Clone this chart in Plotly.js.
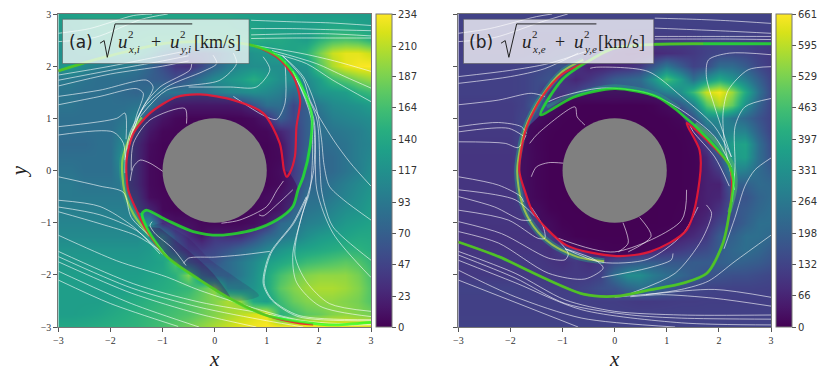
<!DOCTYPE html>
<html>
<head>
<meta charset="utf-8">
<script src="https://cdn.plot.ly/plotly-3.0.1.min.js"></script>
<style>body{margin:0;background:#fff}#myPlot{width:830px;height:380px}</style>
</head>
<body>
<div id="myPlot"></div>
<script>
// grid positions of the two speed maps
const gridX = [-3,-2.75,-2.5,-2.25,-2,-1.75,-1.5,-1.25,-1,-0.75,-0.5,-0.25,0,0.25,0.5,0.75,1,1.25,1.5,1.75,2,2.25,2.5,2.75,3];
const gridY = [3,2.75,2.5,2.25,2,1.75,1.5,1.25,1,0.75,0.5,0.25,0,-0.25,-0.5,-0.75,-1,-1.25,-1.5,-1.75,-2,-2.25,-2.5,-2.75,-3];

// ion speed, rows from y=3 down to y=-3
const ionSpeed = [
[130,132,134,135,135,135,135,135,135,135,135,135,135,135,132,130,130,130,130,128,128,128,128,128,128],
[125,130,135,140,140,140,140,140,140,140,140,140,140,140,135,135,130,130,130,130,135,140,140,135,130],
[120,125,130,135,140,140,145,150,150,150,150,150,150,150,150,145,140,140,135,130,150,165,170,165,150],
[115,120,125,130,135,140,140,120,90,70,60,60,70,90,110,120,125,135,135,150,185,215,225,225,215],
[120,125,110,100,95,95,90,75,55,35,30,50,75,95,110,115,115,115,115,120,170,205,225,232,234],
[95,95,90,85,85,85,80,70,65,55,70,90,110,120,130,145,130,115,115,110,130,160,175,190,200],
[90,90,85,85,85,80,75,85,90,90,90,85,95,105,110,115,110,100,80,100,120,125,130,150,160],
[90,90,85,85,85,85,90,95,60,35,30,30,30,30,35,60,85,85,50,70,95,110,115,120,130],
[85,85,85,85,85,90,105,55,25,10,5,5,5,5,6,12,30,70,50,70,85,100,105,110,115],
[85,85,85,85,85,100,85,30,8,5,5,5,5,5,5,6,8,25,40,70,85,90,95,100,110],
[80,80,80,85,85,110,60,15,5,5,5,5,5,5,5,5,5,12,40,70,80,85,90,100,105],
[85,85,85,85,85,120,60,12,5,5,5,5,5,5,5,5,5,10,40,75,75,80,90,100,110],
[90,90,85,85,85,110,60,12,5,5,5,5,5,5,5,5,6,15,40,65,75,80,90,100,115],
[95,95,90,90,90,95,60,12,5,5,5,5,5,5,5,5,6,12,40,75,80,90,100,110,120],
[95,95,95,95,95,95,80,15,8,5,5,5,5,5,5,8,15,25,50,85,85,95,105,115,125],
[100,100,100,100,100,100,100,55,10,6,5,5,5,5,6,10,15,30,75,90,95,105,115,120,130],
[105,105,105,105,105,105,105,120,35,20,20,10,8,8,10,15,30,80,90,100,105,115,125,130,135],
[110,110,110,110,110,110,110,125,130,60,30,15,35,30,30,50,75,90,100,115,125,130,135,140,140],
[120,120,120,120,120,120,120,125,150,80,45,40,50,60,75,90,105,120,130,135,140,145,150,150,145],
[125,125,125,125,125,125,125,130,135,170,90,60,60,80,95,110,130,140,150,160,165,170,175,170,155],
[130,130,130,130,130,130,130,135,140,150,190,110,85,80,95,115,140,165,180,190,195,195,195,185,165],
[130,130,130,130,130,130,135,140,145,150,155,175,195,115,110,120,140,175,190,200,205,205,200,190,170],
[130,130,130,130,135,140,145,150,155,160,170,180,190,205,195,140,130,160,180,190,195,195,190,185,170],
[130,130,132,135,140,145,150,155,160,165,170,180,190,200,210,220,225,150,160,175,180,190,195,190,185],
[140,140,142,145,148,150,152,158,165,175,185,195,205,215,225,230,234,234,234,234,234,232,230,228,225]
];

// electron speed, rows from y=3 down to y=-3
const electronSpeed = [
[130,130,130,130,130,130,130,130,130,130,130,130,130,130,130,130,130,130,130,130,130,130,130,130,130],
[125,125,125,125,125,125,125,125,125,125,125,125,125,125,125,125,125,125,125,125,125,125,125,125,125],
[118,118,118,120,120,120,120,120,120,120,120,115,115,110,110,110,110,110,115,125,130,130,125,120,115],
[120,120,120,120,120,120,125,130,140,150,130,100,80,70,70,75,85,95,110,130,140,140,135,120,110],
[125,125,125,125,125,130,135,150,170,100,60,60,70,80,110,180,260,190,130,150,230,230,190,140,110],
[125,125,125,125,125,130,150,170,100,70,100,140,190,210,230,340,470,370,240,330,400,340,280,200,130],
[125,125,125,125,125,130,150,90,100,130,170,190,200,190,200,230,290,330,450,610,650,560,400,250,140],
[115,115,115,115,115,130,200,170,60,20,10,10,10,10,10,30,100,180,280,480,580,500,330,210,130],
[115,115,115,115,115,140,130,60,20,10,8,8,8,8,8,10,20,60,170,310,320,260,220,170,130],
[110,110,110,110,110,140,60,20,10,8,8,8,8,8,8,8,10,20,50,220,280,300,290,200,130],
[105,105,105,105,105,140,50,15,8,8,8,8,8,8,8,8,8,15,40,110,280,370,380,240,150],
[100,100,100,100,100,140,60,15,8,8,8,8,8,8,8,8,8,15,30,70,170,360,370,240,160],
[100,100,100,100,100,140,50,15,8,8,8,8,8,8,8,8,8,15,30,60,110,300,280,230,190],
[100,100,100,100,100,140,50,15,8,8,8,8,8,8,8,8,8,15,30,60,60,200,200,230,220],
[100,100,100,100,100,130,60,15,8,8,8,8,8,8,8,8,10,15,40,60,70,170,170,210,230],
[100,100,100,100,100,110,130,30,10,8,8,8,8,8,8,8,10,20,40,60,100,170,190,220,240],
[100,100,100,100,100,100,120,100,20,10,8,8,8,8,8,8,10,30,50,80,140,160,200,240,240],
[95,95,95,95,95,95,95,120,60,15,8,8,8,8,10,20,40,60,80,110,190,200,240,240,220],
[100,100,100,100,100,100,100,90,130,150,70,30,20,25,40,60,90,110,130,150,190,220,240,220,190],
[110,110,110,110,110,110,110,100,90,110,90,110,150,170,190,190,180,180,190,190,200,210,200,190,170],
[110,110,110,110,110,110,110,110,110,110,110,130,240,320,320,270,240,220,190,170,170,160,160,150,140],
[130,130,130,130,130,125,120,120,120,125,140,160,170,210,240,230,190,150,140,135,130,130,130,128,125],
[125,125,125,125,125,125,125,125,125,125,122,120,120,115,110,112,115,118,118,120,120,120,120,120,120],
[125,125,125,125,125,125,125,125,125,125,125,125,125,125,125,125,125,125,125,125,125,125,125,125,125],
[130,130,130,130,130,130,130,130,130,130,130,130,130,130,130,130,130,130,130,130,130,130,130,130,130]
];

// colourbar ticks
const ionTicks = [0,23,47,70,93,117,140,164,187,210,234];
const electronTicks = [0,66,132,198,264,331,397,463,529,595,661];

// separatrix curves, ion panel
const ionRedX = [-3,-2.2,-1.56,-0.92,-0.28,0.68,1.19,1.51,1.64,1.57,1.54,1.44,1.38,1.33,1.25,0.93,0.36,-0.28,-0.73,-1.24,-1.56,-1.69,-1.66,-1.5,-1.31,-0.92,-0.28,0.36,1,1.64,1.89];
const ionRedY = [1.91,2.15,2.31,2.44,2.47,2.41,2.18,1.8,1.35,0.84,0.27,-0.05,-0.12,0.01,0.52,1.1,1.35,1.46,1.41,1.1,0.71,0.2,-0.37,-0.76,-1.14,-1.65,-2.1,-2.49,-2.78,-2.93,-2.95];
const ionGreenX = [-3,-2.2,-1.56,-0.92,-0.28,0.68,1.19,1.57,1.86,1.83,1.7,1.6,1.5,1.19,0.74,0.1,-0.41,-0.92,-1.31,-1.39,-1.31,-0.92,-0.28,0.36,1,1.89,2.27,3];
const ionGreenY = [1.91,2.15,2.31,2.44,2.47,2.41,2.21,1.8,1.1,0.46,-0.12,-0.37,-0.69,-0.95,-1.14,-1.24,-1.17,-0.95,-0.76,-0.82,-1.08,-1.65,-2.1,-2.49,-2.78,-2.93,-2.96,-2.91];

// dark regions and bright shock layers, ion panel
const ionCoreX = [1.33,1.25,0.93,0.36,-0.28,-0.73,-1.24,-1.56,-1.69,-1.66,-1.5,-1.39,-1.31,-0.92,-0.41,0.1,0.74,1.19,1.5,1.6,1.44];
const ionCoreY = [0.01,0.52,1.1,1.35,1.46,1.41,1.1,0.71,0.2,-0.37,-0.76,-0.82,-0.76,-0.95,-1.17,-1.24,-1.14,-0.95,-0.69,-0.37,-0.05];
const ionWedgeX = [-1.31,-0.92,-0.28,0.36,0.85,0.4,-0.1,-0.5,-1];
const ionWedgeY = [-1.08,-1.65,-2.1,-2.49,-2.4,-2.05,-1.7,-1.3,-1];
const ionWedgeInnerX = [-1.31,-0.92,-0.28,0.3,-0.05,-0.55,-1.05];
const ionWedgeInnerY = [-1.08,-1.65,-2.1,-2.44,-1.95,-1.5,-1.1];
const ionGlowX = [-1.4,-1.58,-1.77,-1.73,-1.55,-1.25];
const ionGlowY = [1.02,0.75,0.2,-0.4,-0.85,-1.25];

// separatrix curves, electron panel
const electronRedX = [1.7,0.8,0,-0.5,-1,-1.4,-1.7,-1.83,-1.72,-1.56,-0.93,0.04,0.7,1.38,1.63,1.63,1.38,1.8,2.2,2.25,2.21,2.08,1.77,1.31,0.67,0.04,-0.6,-1.57,-2.2,-3];
const electronRedY = [2.43,2.42,2.35,2.1,1.85,1.4,0.8,0,-0.4,-0.81,-1.43,-1.64,-1.55,-1.14,-0.18,0.39,0.91,0.55,0.1,-0.2,-0.76,-1.39,-1.97,-2.16,-2.29,-2.41,-2.37,-1.96,-1.66,-1.37];
const electronGreenX = [3,1.7,0.8,0,-0.5,-1,-1.42,-0.8,0,0.8,1.2,1.8,2.2,2.28,2.21,2.08,1.77,1.31,0.67,0.04,-0.6,-1.57,-2.2,-3];
const electronGreenY = [2.43,2.43,2.42,2.35,2.1,1.75,1.07,1.4,1.57,1.42,1.15,0.6,0.1,-0.2,-0.76,-1.39,-1.97,-2.16,-2.29,-2.41,-2.37,-1.96,-1.66,-1.37];

// dark regions and bright shock layers, electron panel
const electronCoreX = [-1.42,-0.8,0,0.8,1.2,1.38,1.63,1.63,1.38,0.7,0.04,-0.93,-1.56,-1.72,-1.83,-1.7];
const electronCoreY = [1.07,1.4,1.57,1.42,1.15,0.91,0.39,-0.18,-1.14,-1.55,-1.64,-1.43,-0.81,-0.4,0,0.8];
const electronGlowX = [-0.6,-1,-1.4,-1.72,-1.87,-1.78,-1.55,-1.2,-0.7,-0.2];
const electronGlowY = [2.12,1.9,1.42,0.8,0,-0.62,-1.08,-1.42,-1.66,-1.74];
const electronArcX = [-1.3,-0.8,0,0.8,1.25];
const electronArcY = [1.22,1.46,1.62,1.47,1.2];
const electronRimX = [1.55,1.9,2.27,2.32,2.2];
const electronRimY = [0.9,0.6,0.1,-0.3,-0.8];

// streamlines as [x values, y values]
const ionStreams = [
[[-3,-2.4,-1.56,-1.2],[2.63,2.72,2.97,3]],
[[-3,-2.3,-1.4,-0.9],[2.47,2.55,2.9,3]],
[[0.7,1.5,2.2,3],[2.88,2.85,2.83,2.78]],
[[0.7,1.5,2.2,3],[2.72,2.72,2.7,2.68]],
[[0.7,1.5,2.2,3],[2.6,2.62,2.62,2.58]],
[[0.7,1.5,2.2,3],[2.53,2.54,2.54,2.54]],
[[0.74,1.64,2.3,3],[2.4,2.25,2.1,1.9]],
[[1.1,1.95,2.5,3],[2.3,2.05,1.8,1.58]],
[[1.12,1.76,2.27,3],[2.25,2.05,1.73,1.32]],
[[1.3,1.7,1.95,2.05,2.1,2.2,2.47,3],[2.2,1.8,1.2,0.6,0.1,-0.3,-0.56,-0.95]],
[[1.3,1.7,1.83,2.27,2.6,3],[2.2,1.75,1.35,0.6,0.15,-0.3]],
[[1.5,1.95,2.02,2.05,2.12,2.27,3],[1.9,1.03,0.07,-0.37,-0.69,-1.08,-1.72]],
[[1.5,1.9,1.96,2.27,3],[1.9,1,-0.37,-1.2,-2.05]],
[[1.5,1.85,1.83,1.67,1.54,1.76,2.2,3],[1.9,1,-0.37,-0.87,-1.62,-2.13,-2.55,-2.7]],
[[1.5,1.88,1.9,1.75,1.5,1.57,2.02,3],[1.9,1,0,-0.6,-1.6,-2.14,-2.6,-2.8]],
[[1.76,1.5,1.06,0.93,1.09,1.6,3],[-0.5,-1.01,-1.59,-2.16,-2.48,-2.8,-2.88]],
[[1.78,1.52,1.08,0.95,1.11,1.62,3],[-0.5,-1.01,-1.59,-2.16,-2.48,-2.78,-2.86]],
[[-0.6,-0.5,0,0.5,1.06],[-1.78,-1.68,-1.66,-1.62,-1.55]],
[[-1.2,-1.24,-1.15,-0.8,-0.55],[-0.98,-1.05,-1.2,-1.5,-1.82]],
[[-3,-2.2,-1.56,-1.05],[-0.57,-0.69,-1.08,-1.6]],
[[-3,-2.2,-1.5,-1],[-0.7,-0.85,-1.15,-1.6]],
[[-3,-2.2,-1.5,-0.95],[-0.79,-1.02,-1.25,-1.6]],
[[-3,-1.88,-0.92,-0.28,1.64,3],[-1.24,-1.73,-2.04,-2.3,-2.87,-2.95]],
[[-3,-1.56,-0.3,1,2,3],[-1.55,-2.17,-2.52,-2.75,-2.95,-2.96]],
[[-3,-1.6,-0.3,1,1.7],[-1.65,-2.25,-2.62,-2.88,-3]],
[[-3,-1.6,-0.3,0.8],[-1.75,-2.35,-2.75,-3]],
[[-3,-1.6,-0.3],[-1.93,-2.55,-3]],
[[-3,-2,-0.7],[-2.1,-2.55,-2.99]],
[[-3,-2.2,-1.75,-1.6,-1.2,-0.9],[-0.12,-0.3,-0.42,-0.9,-1.3,-1.65]],
[[-3,-2,-1,-0.5],[1.83,2,2.2,2.3]],
[[-3,-2,-1,-0.5],[1.73,1.92,2.1,2.2]],
[[-3,-2,-1,-0.5],[1.62,1.85,2,2.1]],
[[-3,-2.2,-1.3,-1.18,-1.37,-1.63,-1.72],[1.42,1.54,1.73,1.6,1.22,0.71,0.2]],
[[-3,-2.2,-1.5,-1.37,-1.5,-1.68],[1.26,1.42,1.57,1.48,1.05,0.4]],
[[-3,-1.88,-1.72,-1.7],[0.84,1,1.1,0.6]],
[[-3,-1.95,-1.75,-1.72],[0.68,0.74,0.52,-0.05]],
[[-0.44,-0.47,-1.05,-1.37,-1.63],[2.05,1.93,1.6,1.22,0.58]],
[[-0.03,0.04,-0.22,-0.92,-1.4,-1.63],[2.21,2.05,1.9,1.6,1.15,0.5]],
[[0.36,0.42,0.1,-0.92,-1.43],[2.25,2.05,1.73,1.54,1.03]],
[[0.93,1.06,0.8,0.3,-0.5],[2.18,1.93,1.6,1.6,1.6]],
[[1.35,1.35,1.19,0.93,0.36],[2.1,1.29,0.98,1.06,1.42]],
[[-0.54,-0.57,-1.24,-1.56,-1.6],[0.9,1.19,0.97,0.52,0]],
[[-1.62,-1.56,-1.43,-1.24,-0.99],[-0.2,0.07,0.2,0.14,-0.02]],
[[1.32,1.2,1,0.48,0.13],[-0.2,-0.37,-0.69,-0.95,-1.01]],
[[1.5,1.2,0.93,0.85],[-0.37,-0.65,-0.87,-0.85]]
];

const electronStreams = [
[[-3,-2.4,-1.5,-1.2],[2.63,2.72,2.95,3]],
[[-3,-2.3,-1.4,-0.9],[2.47,2.55,2.85,3]],
[[0.77,1.5,2.2,3],[2.92,2.9,2.87,2.82]],
[[0.77,1.5,2.2,3],[2.73,2.7,2.67,2.63]],
[[0.77,1.5,2.2,3],[2.57,2.57,2.57,2.57]],
[[0.77,1.5,2.2,3],[2.52,2.52,2.52,2.51]],
[[-3,-2,-1.27,-0.5],[1.8,1.92,2.05,2.3]],
[[-3,-2,-1.35,-0.7],[1.67,1.8,1.95,2.25]],
[[-3,-2.23,-1.6,-1.34],[1.26,1.35,1.48,1.42]],
[[-3,-2.23,-1.79,-1.69],[0.84,0.92,0.84,0.71]],
[[-3,-2.04,-1.75],[0.74,0.81,0.66]],
[[-3,-2.1,-1.85,-1.7],[0.55,0.52,0.44,0.68]],
[[-3,-2.23,-1.8,-1.75],[-0.12,-0.28,-0.5,-0.6]],
[[-1.63,-1.47,-0.76,-0.72,-0.57],[0.52,0.71,1.22,1.03,0.87]],
[[-1.6,-1.5,-1.27,-0.98],[-0.12,0.07,0.15,0.14]],
[[-1.27,-1.02,-0.25,0.64,1.28,1.92,2.24],[1.32,1.42,1.58,1.48,1.16,0.65,0.07]],
[[-0.47,-0.35,0.64,1.28,1.92,2.24],[1.96,1.98,1.9,1.42,0.84,0.26]],
[[3,2.2,1.8,1.76,1.92,2.24],[2.22,2.25,2.12,1.8,1.22,0.26]],
[[3,2.56,2.18,2.08,2.11,2.3],[1.99,1.93,1.54,1.1,0.52,-0.37]],
[[3,2.5,2.31,2.31,2.25],[1.38,1.22,0.84,0.07,-0.6]],
[[3,2.69,2.5,2.31,2.1],[0.24,0.01,-0.3,-0.9,-1.5]],
[[1.45,1.51,1.92,2.2],[0.85,0.74,0.26,-0.3]],
[[-3,-1.91,-1.53],[-0.37,-0.56,-0.88]],
[[-3,-2.3,-1.79,-1.6],[-0.5,-0.7,-0.95,-0.95]],
[[-3,-2.04,-1.47,-1.34,-1.37,-1.6],[-0.76,-0.95,-1.3,-1.3,-1.08,-0.7]],
[[-3,-2.17,-1.27,-0.95,-0.89,-1.15],[-0.98,-1.21,-1.68,-1.71,-1.59,-1.27]],
[[-3,-2.23,-1.27,-0.57,-0.22,-0.38,-0.95],[-1.17,-1.39,-1.97,-2.08,-1.87,-1.71,-1.5]],
[[-3,-1.91,-0.95,0,1.28,3],[-1.55,-1.97,-2.48,-2.7,-2.77,-2.77]],
[[-3,-1.91,-0.95,0.32,1.28,3],[-1.62,-2.06,-2.55,-2.77,-2.83,-2.85]],
[[-3,-1.91,-0.63,1.28,3],[-1.72,-2.15,-2.67,-2.92,-2.96]],
[[-3,-1.91,-0.63,1.16],[-1.91,-2.42,-2.83,-3]],
[[-3,-0.7],[-2.1,-3]],
[[0,0.77,1.92,3],[-2.43,-2.36,-2.28,-2.43]],
[[0.3,0.9,1.92,3],[-2.42,-2.38,-2.45,-2.6]],
[[0.16,0.26,0.07],[-1,-1.39,-1.56]],
[[0.48,0.7,0.26],[-0.9,-1.26,-1.56]],
[[1.12,1.09,0.64,-0.25],[-1.59,-1.71,-1.87,-2.05]],
[[1.76,1.86,1.67,1.16,0.32],[-0.66,-0.82,-1.33,-1.97,-2.35]],
[[3,2.31,1.8,1.28,0.6],[-1.24,-1.74,-2.12,-2.28,-2.38]],
[[-1.08,0,1.28,1.38],[-1.3,-1.56,-0.96,-0.37]],
[[-0.95,-0.25,0.64,1.28,1.6],[-1.5,-1.76,-1.7,-1.25,-0.7]]
];

const shockRed = "rgba(240,25,50,0.88)";
const shockGreen = "rgba(30,255,30,0.72)";
const streamWhite = "rgba(255,255,255,0.6)";

const curve = (x, y, color, width, xa, ya) => ({
    x: x, y: y, xaxis: xa, yaxis: ya, type: "scatter", mode: "lines",
    line: { color: color, width: width, shape: "spline", smoothing: 0.8 },
    hoverinfo: "skip", showlegend: false
});

const patch = (x, y, color, xa, ya) => ({
    x: x, y: y, xaxis: xa, yaxis: ya, type: "scatter", mode: "lines", fill: "toself", fillcolor: color,
    line: { width: 0, shape: "spline", smoothing: 0.8 }, hoverinfo: "skip", showlegend: false
});

const speedMap = (z, ticks, barX, xa, ya) => ({
    x: gridX, y: gridY.slice().reverse(), z: z.slice().reverse(),
    xaxis: xa, yaxis: ya, type: "heatmap", colorscale: "Viridis", zsmooth: "best",
    zmin: 0, zmax: ticks[ticks.length - 1],
    colorbar: {
        x: barX, xref: "paper", xanchor: "left", xpad: 0, ypad: 0,
        y: 1 - 327 / 380, yref: "paper", yanchor: "bottom", len: 313 / 380, lenmode: "fraction",
        thickness: 15.5, thicknessmode: "pixels",
        tickvals: ticks, ticktext: ticks.map(String), ticks: "outside", ticklen: 4,
        tickcolor: "#555", tickwidth: 1, outlinecolor: "#777", outlinewidth: 1,
        tickfont: { family: "DejaVu Sans", size: 10, color: "#333" }
    }
});

const data = [
    speedMap(ionSpeed, ionTicks, 375.7 / 830, "x", "y"),
    patch(ionCoreX, ionCoreY, "rgba(68,1,84,0.5)", "x", "y"),
    patch(ionWedgeX, ionWedgeY, "rgba(68,1,84,0.15)", "x", "y"),
    patch(ionWedgeInnerX, ionWedgeInnerY, "rgba(68,1,84,0.3)", "x", "y"),
    curve(ionGlowX, ionGlowY, "rgba(60,180,120,0.3)", 6, "x", "y"),
    curve(ionGlowX, ionGlowY, "rgba(170,225,60,0.7)", 2.2, "x", "y"),
    ...ionStreams.map(s => curve(s[0], s[1], streamWhite, 1, "x", "y")),
    curve(ionRedX, ionRedY, shockRed, 2.2, "x", "y"),
    curve(ionGreenX, ionGreenY, shockGreen, 2.8, "x", "y"),
    speedMap(electronSpeed, electronTicks, 776 / 830, "x2", "y2"),
    patch(electronCoreX, electronCoreY, "rgba(68,1,84,0.8)", "x2", "y2"),
    curve(electronGlowX, electronGlowY, "rgba(40,170,130,0.45)", 6, "x2", "y2"),
    curve(electronGlowX, electronGlowY, "rgba(190,225,60,0.7)", 2, "x2", "y2"),
    curve(electronArcX, electronArcY, "rgba(40,160,130,0.45)", 3.5, "x2", "y2"),
    curve(electronRimX, electronRimY, "rgba(90,200,100,0.5)", 4, "x2", "y2"),
    ...electronStreams.map(s => curve(s[0], s[1], streamWhite, 1, "x2", "y2")),
    curve(electronRedX, electronRedY, shockRed, 2.2, "x2", "y2"),
    curve(electronGreenX, electronGreenY, shockGreen, 2.8, "x2", "y2")
];

const axisStyle = {
    range: [-3, 3], tickvals: [-3, -2, -1, 0, 1, 2, 3], ticks: "outside", ticklen: 4, tickwidth: 1,
    tickcolor: "#555", linecolor: "#777", linewidth: 1, mirror: true, showgrid: false, zeroline: false,
    tickfont: { family: "Liberation Serif", size: 10, color: "#333" }
};
const serifTitle = { family: "Liberation Serif", size: 21, color: "#222" };

// legend box, radical sign and disk for one panel
const panelShapes = (xa, ya, boxLeft, boxRight, radical) => [
    { type: "circle", xref: xa, yref: ya, x0: -1, x1: 1, y0: -1, y1: 1, fillcolor: "#808080", line: { width: 0 } },
    { type: "rect", xref: xa, yref: ya, x0: boxLeft, x1: boxRight, y0: 2.05, y1: 2.9,
      fillcolor: "rgba(255,255,255,0.75)", line: { color: "rgba(90,90,90,0.6)", width: 1 } },
    { type: "path", xref: xa, yref: ya, path: radical, line: { color: "#222", width: 1 } }
];

const note = (xa, ya, x, y, text, size, family) => ({
    xref: xa, yref: ya, x: x, y: y, text: text, showarrow: false, xanchor: "left", yanchor: "middle",
    font: { family: family || "Liberation Serif", size: size, color: "#222" }
});

const panelNotes = (xa, ya, tag, dx, sub1, sub2) => [
    note(xa, ya, -2.83, 2.47, tag, 17, "DejaVu Sans"),
    note(xa, ya, -1.89 + dx, 2.47, "<i>u</i>", 19),
    note(xa, ya, -1.7 + dx, 2.62, "2", 11),
    note(xa, ya, -1.7 + dx, 2.33, sub1, 11),
    note(xa, ya, -1.26 + dx, 2.47, "+", 18),
    note(xa, ya, -0.89 + dx, 2.47, "<i>u</i>", 19),
    note(xa, ya, -0.7 + dx, 2.62, "2", 11),
    note(xa, ya, -0.7 + dx, 2.33, sub2, 11),
    note(xa, ya, -0.43 + dx, 2.47, "[km/s]", 18)
];

const layout = {
    width: 830, height: 380, autosize: false, showlegend: false,
    margin: { l: 0, r: 0, t: 0, b: 0, autoexpand: false },
    paper_bgcolor: "#fff", plot_bgcolor: "#fff",
    xaxis: { ...axisStyle, domain: [58.3 / 830, 371 / 830], anchor: "y", title: { text: "<i>x</i>", font: serifTitle, standoff: 6 } },
    yaxis: { ...axisStyle, domain: [1 - 327 / 380, 1 - 14 / 380], anchor: "x", title: { text: "<i>y</i>", font: serifTitle, standoff: 8 } },
    xaxis2: { ...axisStyle, domain: [458.3 / 830, 771 / 830], anchor: "y2", title: { text: "<i>x</i>", font: serifTitle, standoff: 6 } },
    yaxis2: { ...axisStyle, domain: [1 - 327 / 380, 1 - 14 / 380], anchor: "x2", showticklabels: false },
    shapes: [
        ...panelShapes("x", "y", -2.92, 0.66, "M -2.2 2.44 L -2.12 2.49 L -2.06 2.17 L -1.91 2.81 L -0.43 2.81"),
        ...panelShapes("x2", "y2", -2.9, 0.75, "M -2.18 2.44 L -2.1 2.49 L -2.03 2.17 L -1.88 2.81 L -0.35 2.81")
    ],
    annotations: [
        ...panelNotes("x", "y", "(a)", 0, "<i>x,i</i>", "<i>y,i</i>"),
        ...panelNotes("x2", "y2", "(b)", 0.07, "<i>x,e</i>", "<i>y,e</i>")
    ]
};

Plotly.newPlot("myPlot", data, layout, { displayModeBar: false, staticPlot: true });
</script>
</body>
</html>
